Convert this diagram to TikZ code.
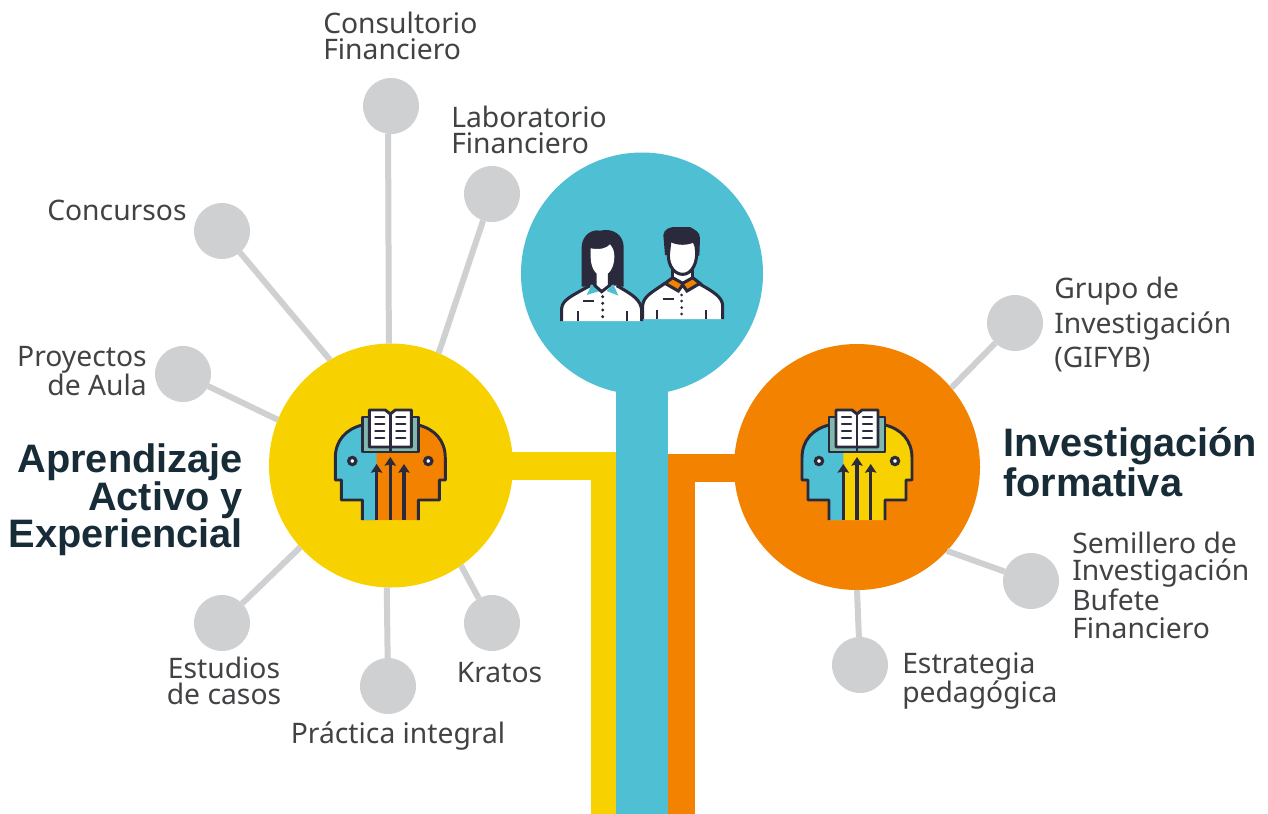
\documentclass[tikz,border=0pt]{standalone}
\usepackage{fontspec}
\setmainfont{Noto Sans}
\newfontfamily\titlefont{Liberation Sans}
\usetikzlibrary{arrows.meta}
\definecolor{trunkblue}{HTML}{4FBFD3}
\definecolor{sunyellow}{HTML}{F8D200}
\definecolor{burnorange}{HTML}{F28200}
\definecolor{leafgray}{HTML}{CFD0D2}
\definecolor{inkdark}{HTML}{2A2A3C}
\definecolor{bookteal}{HTML}{7FB9AE}
\definecolor{labelgray}{HTML}{404244}
\definecolor{titledark}{HTML}{182C38}
\tikzset{
  hub/.style={circle, fill=#1, inner sep=0, outer sep=0},
  leaf/.style={circle, fill=leafgray, minimum size=42pt, inner sep=0, outer sep=0},
  twig/.style={draw=leafgray, line width=4.5pt},
  lbl/.style={text=labelgray, font=\fontsize{21.2}{20}\selectfont, inner sep=0},
  ttl/.style={text=titledark, font=\titlefont\fontsize{29.8}{28}\selectfont\bfseries, inner sep=0},
  ink/.style={draw=inkdark, line width=2.2pt, line join=round},
  pics/mindicon/.style n args={2}{code={
    \path[fill=#2] (-28,55) -- (-28,35) -- (-49,35) -- (-49,15) -- (-55,15) -- (-55,-7)
      .. controls (-55,-25) and (-44,-36) .. (-28,-40) -- (28,-40)
      .. controls (44,-36) and (55,-25) .. (55,-7) -- (55,15) -- (49,15) -- (49,35) -- (28,35) -- (28,55) -- cycle;
    \begin{scope}
      \clip (-60,-50) rectangle (-13.7,60);
      \path[fill=#1] (-28,55) -- (-28,35) -- (-49,35) -- (-49,15) -- (-55,15) -- (-55,-7)
        .. controls (-55,-25) and (-44,-36) .. (-28,-40) -- (28,-40) -- (28,55) -- cycle;
    \end{scope}
    \draw[ink] (-28,55) -- (-28,35) -- (-49,35) -- (-49,15) -- (-55,15) -- (-55,-7)
      .. controls (-55,-25) and (-44,-36) .. (-28,-40);
    \draw[ink] (28,55) -- (28,35) -- (49,35) -- (49,15) -- (55,15) -- (55,-7)
      .. controls (55,-25) and (44,-36) .. (28,-40);
    \filldraw[ink, fill=bookteal] (-28,-48) rectangle (28,-13);
    \filldraw[ink, fill=white] (0,-18) -- (-21,-18) -- (-21,-55) -- (-5,-55) -- (0,-51) -- (5,-55) -- (21,-55) -- (21,-18) -- cycle;
    \draw[ink] (0,-51) -- (0,-13);
    \foreach \yy in {-48,-41,-34,-27} {
      \draw[ink, line width=1.8pt, line cap=round] (-15,\yy) -- (-6,\yy);
      \draw[ink, line width=1.8pt, line cap=round] (6,\yy) -- (15,\yy);
    }
    \foreach \xx/\yy in {-13.7/-1,0/-8,13.7/-1}
      \draw[ink, line width=2.4pt, {Stealth[length=6.5pt,width=8.5pt,inset=1pt]}-] (\xx,\yy) -- (\xx,55);
    \foreach \xx in {-38,38}
      \filldraw[draw=inkdark, line width=2.4pt, fill=white] (\xx,-4) circle (3.6);
  }},
}
\begin{document}
\begin{tikzpicture}[x=.75pt, y=-.75pt]
\useasboundingbox (0,0) rectangle (1268,814);
% branches and trunk
\fill[sunyellow] (505,452) rectangle (616,480);
\fill[sunyellow] (591,452) rectangle (616,814);
\fill[burnorange] (668,454) rectangle (745,482);
\fill[burnorange] (668,454) rectangle (695,814);
\fill[trunkblue] (616,380) rectangle (668,814);
% hubs
\node[hub=trunkblue, minimum size=181.5pt] (people) at (642,273.5) {};
\node[hub=sunyellow, minimum size=183pt] (active) at (391,465.5) {};
\node[hub=burnorange, minimum size=184.5pt] (research) at (857,467) {};
% leaves
\node[leaf] (consultorio) at (391,106) {};
\node[leaf] (laboratorio) at (492,194) {};
\node[leaf] (concursos) at (222,231) {};
\node[leaf] (proyectos) at (183,374) {};
\node[leaf] (estudios) at (222,623) {};
\node[leaf] (practica) at (388,686) {};
\node[leaf] (kratos) at (492,623) {};
\node[leaf] (grupo) at (1015,323) {};
\node[leaf] (semillero) at (1031,581) {};
\node[leaf] (estrategia) at (860,665) {};
% twigs
\draw[twig] (consultorio.264) -- (active.91.4);
\draw[twig] (laboratorio) -- (active.67);
\draw[twig] (concursos) -- (active.120);
\draw[twig] (proyectos) -- (active.158);
\draw[twig] (estudios) -- (active.222);
\draw[twig] (practica) -- (active.268.7);
\draw[twig] (kratos) -- (active.305);
\draw[twig] (grupo) -- (research.40);
\draw[twig] (semillero) -- (research.317);
\draw[twig] (estrategia) -- (research.270);
% labels
\node[lbl, anchor=west, align=left] (consultoriotxt) at (323,36) {Consultorio\\Financiero};
\node[lbl, anchor=west, align=left] (laboratoriotxt) at (451,130) {Laboratorio\\Financiero};
\node[lbl, anchor=west] (concursostxt) at (47,210) {Concursos};
\node[lbl, anchor=east, align=right] (proyectostxt) at (147,371) {Proyectos\\de Aula\hspace{5pt}};
\node[lbl, align=center] (estudiostxt) at (224,681) {Estudios\\de casos};
\node[lbl] (kratostxt) at (499.5,673) {Kratos};
\node[lbl] (practicatxt) at (398,736) {Práctica integral};
\node[lbl, anchor=west, align=left] (grupotxt) at (1054,324) {Grupo de\\[4pt]Investigación\\[4pt](GIFYB)};
\node[lbl, anchor=west, align=left] (semillerotxt) at (1072,585) {Semillero de\\[.5pt]Investigación\\[.5pt]Bufete\\[.5pt]Financiero};
\node[lbl, anchor=west, align=left] (estrategiatxt) at (902,681) {Estrategia\\pedagógica};
\node[ttl, anchor=east, align=right] (activetxt) at (243,500) {Aprendizaje\\Activo y\\Experiencial};
\node[ttl, anchor=west, align=left] (researchtxt) at (1003,462) {Investigación\\[2pt]formativa};
% icons
\pic at (390.3,465) {mindicon={trunkblue}{burnorange}};
\pic at (857,465) {mindicon={trunkblue}{sunyellow}};
% people
\begin{scope}[shift={(550,215)}, x=.25pt, y=-.25pt]
  \fill[inkdark] (95,215) -- (95,95) .. controls (97,60) and (125,42) .. (150,47)
    .. controls (190,38) and (220,60) .. (221,95) -- (221,215) -- cycle;
  \fill[white] (35,318) -- (35,280) .. controls (38,255) and (60,245) .. (120,212)
    -- (200,212) .. controls (250,240) and (272,255) .. (275,285) -- (275,318) -- cycle;
  \draw[inkdark, line width=2.3pt] (35,318) -- (35,280) .. controls (38,255) and (60,245) .. (120,212)
    (200,212) .. controls (250,240) and (272,255) .. (275,285) -- (275,318);
  \fill[trunkblue] (125,208) -- (110,240) -- (150,228) -- cycle (190,208) -- (205,242) -- (170,228) -- cycle;
  \filldraw[draw=inkdark, line width=2.3pt, fill=white] (135,170) -- (135,212) -- (155,230) -- (178,212) -- (178,170) -- cycle;
  \fill[white] (122,100) .. controls (150,105) and (170,100) .. (180,88) .. controls (190,100) and (193,110) .. (193,125)
    .. controls (193,160) and (175,182) .. (157,182) .. controls (138,182) and (122,160) .. (122,125) -- cycle;
  \draw[inkdark, line width=1.7pt] (100,258) -- (133,258);
  \foreach \yy in {245,265,285,305} \fill[inkdark] (158,\yy) circle (5);
  \draw[inkdark, line width=1.7pt] (84,288) -- (84,318) (230,288) -- (230,318);
  \fill[white] (278,312) -- (278,270) .. controls (282,245) and (300,235) .. (345,205)
    -- (445,205) .. controls (490,230) and (515,245) .. (518,270) -- (518,312) -- cycle;
  \draw[inkdark, line width=2.3pt] (278,312) -- (278,270) .. controls (282,245) and (300,235) .. (345,205)
    (445,205) .. controls (490,230) and (515,245) .. (518,270) -- (518,312);
  \filldraw[draw=inkdark, line width=2.3pt, fill=white] (368,165) -- (368,205) -- (428,205) -- (428,165) -- cycle;
  \filldraw[draw=inkdark, line width=2.3pt, fill=burnorange] (368,188) -- (345,205) -- (385,228) -- (398,210) -- (411,228) -- (450,205) -- (428,188) -- (398,205) -- cycle;
  \fill[inkdark] (345,120) -- (340,60) .. controls (342,42) and (360,35) .. (380,36) -- (420,36)
    .. controls (435,45) and (450,50) .. (450,70) -- (448,122) -- cycle;
  \filldraw[draw=inkdark, line width=2.3pt, fill=white] (360,75) .. controls (385,90) and (415,85) .. (430,78)
    .. controls (438,85) and (440,100) .. (440,120) .. controls (438,155) and (420,178) .. (398,178) .. controls (375,178) and (355,155) .. (355,120) -- cycle;
  \draw[inkdark, line width=1.7pt] (338,252) -- (372,252);
  \foreach \yy in {240,258,278,297} \fill[inkdark] (395,\yy) circle (4.5);
  \draw[inkdark, line width=1.7pt] (322,285) -- (322,312) (468,285) -- (468,312);
\end{scope}
\end{tikzpicture}
\end{document}
